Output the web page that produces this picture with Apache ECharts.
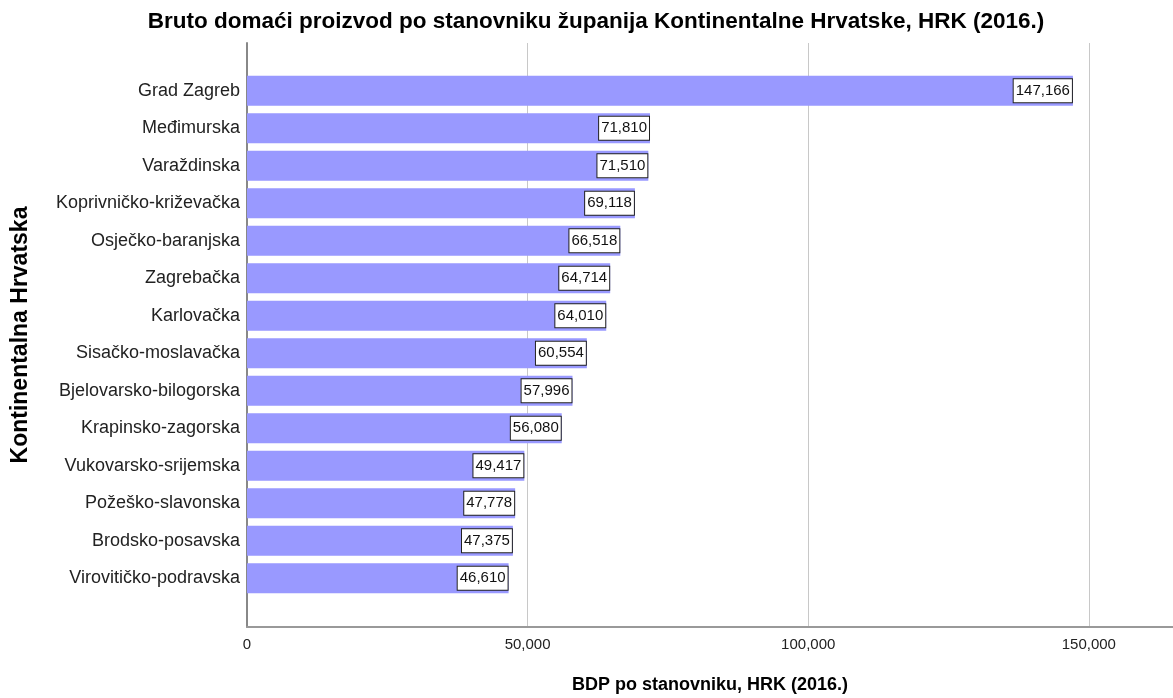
<!DOCTYPE html>
<html>
<head>
<meta charset="utf-8">
<script src="https://cdn.jsdelivr.net/npm/echarts@6/dist/echarts.min.js"></script>
<style>
  html, body { margin: 0; padding: 0; background: #fff; }
  #chart { width: 1173px; height: 698px; }
</style>
</head>
<body>
<div id="chart"></div>
<script>
// zupanije, od najvece prema najmanjoj
const counties = [
  "Grad Zagreb", "Međimurska", "Varaždinska", "Koprivničko-križevačka",
  "Osječko-baranjska", "Zagrebačka", "Karlovačka", "Sisačko-moslavačka",
  "Bjelovarsko-bilogorska", "Krapinsko-zagorska", "Vukovarsko-srijemska",
  "Požeško-slavonska", "Brodsko-posavska", "Virovitičko-podravska"
];
const gdpPerCapita = [
  147166, 71810, 71510, 69118, 66518, 64714, 64010, 60554,
  57996, 56080, 49417, 47778, 47375, 46610
];
const xTicks = [0, 50000, 100000, 150000];

const font = "'Liberation Sans', Arial, sans-serif";
const fmt = (v) => Number(v).toLocaleString("en-US");

let chart = echarts.init(document.getElementById("chart"));
chart.setOption({
  animation: false,
  title: {
    text: "Bruto domaći proizvod po stanovniku županija Kontinentalne Hrvatske, HRK (2016.)",
    left: 591,
    textAlign: "center",
    top: 5,
    textStyle: { fontFamily: font, fontSize: 22.5, fontWeight: "bold", color: "#000" }
  },
  grid: [
    // bars
    { left: 247, right: 0, top: 72, bottom: 101, outerBoundsMode: "none" },
    // frame: axis lines + gridlines
    { left: 247, right: 0, top: 43, bottom: 71, outerBoundsMode: "none" }
  ],
  xAxis: [
    {
      gridIndex: 0, type: "value", min: 0, max: 165000,
      show: false
    },
    {
      gridIndex: 1, type: "value", min: 0, max: 165000, interval: 50000,
      name: "BDP po stanovniku, HRK (2016.)",
      nameLocation: "middle",
      nameGap: 49,
      nameTextStyle: { fontFamily: font, fontSize: 18, fontWeight: "bold", color: "#000" },
      axisLine: { show: true, lineStyle: { color: "#999", width: 2 } },
      axisTick: { show: false },
      axisLabel: {
        margin: 10, fontFamily: font, fontSize: 15, color: "#222",
        showMaxLabel: false,
        formatter: (v) => xTicks.includes(v) ? fmt(v) : ""
      },
      splitLine: { show: true, lineStyle: { color: "#c8c8c8", width: 1 } }
    }
  ],
  yAxis: [
    {
      gridIndex: 0, type: "category", inverse: true,
      data: counties,
      axisLine: { show: false },
      axisTick: { show: false },
      axisLabel: { margin: 7, fontFamily: font, fontSize: 18, color: "#222" }
    },
    {
      gridIndex: 1, type: "value", min: 0, max: 1,
      name: "Kontinentalna Hrvatska",
      nameLocation: "middle",
      nameGap: 215,
      nameTextStyle: { fontFamily: font, fontSize: 23, fontWeight: "bold", color: "#000" },
      axisLine: { show: true, lineStyle: { color: "#888", width: 2 } },
      axisTick: { show: false },
      axisLabel: { show: false },
      splitLine: { show: false }
    }
  ],
  series: [
    {
      type: "bar",
      xAxisIndex: 0,
      yAxisIndex: 0,
      data: gdpPerCapita,
      barWidth: 30,
      itemStyle: { color: "#9999ff" },
      label: {
        show: true,
        position: "insideRight",
        distance: 1,
        formatter: (p) => fmt(p.value),
        fontFamily: font,
        fontSize: 15,
        lineHeight: 16,
        color: "#111",
        backgroundColor: "#fff",
        borderColor: "#222",
        borderWidth: 1,
        padding: [4, 2, 3, 2]
      }
    }
  ]
});
</script>
</body>
</html>
